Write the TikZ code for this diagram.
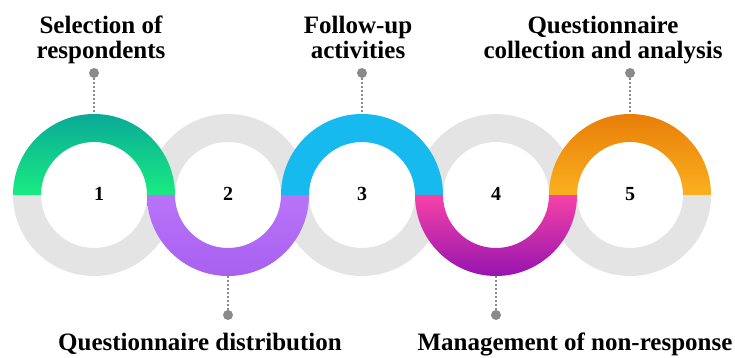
\documentclass[tikz,border=0pt]{standalone}
\usepackage{fontspec}
\setmainfont{Liberation Serif}
\definecolor{ringgray}{RGB}{228,228,228}
\definecolor{pingray}{RGB}{138,138,138}
\definecolor{tealtop}{RGB}{10,170,150}
\definecolor{greenbot}{RGB}{25,235,130}
\definecolor{violettop}{RGB}{184,116,248}
\definecolor{violetbot}{RGB}{168,96,240}
\definecolor{cyanring}{RGB}{22,186,238}
\definecolor{pinktop}{RGB}{246,66,166}
\definecolor{plumbot}{RGB}{150,20,176}
\definecolor{orangetop}{RGB}{232,126,8}
\definecolor{orangebot}{RGB}{251,176,32}
\begin{document}
\begin{tikzpicture}[x=1pt,y=1pt,
  lbl/.style={font=\fontsize{25}{25}\selectfont\bfseries, align=center, inner sep=0pt, anchor=base},
  num/.style={font=\fontsize{20}{20}\selectfont\bfseries, inner sep=0pt},
  pin/.style={circle, fill=pingray, inner sep=0pt, minimum size=10pt},
  lead/.style={pingray, line width=2pt, dash pattern=on 2pt off 2pt}]
\useasboundingbox (0,0) rectangle (735,358);

% grey halves of the five rings
\foreach \cx/\s in {94/-1,228/1,362/-1,496/1,630/-1}{
  \fill[ringgray] (\cx+81,163) arc[start angle=0,end angle=\s*180,radius=81]
    -- ++(28,0) arc[start angle=\s*180,end angle=0,radius=53] -- cycle;
}

% coloured halves
\shade[top color=tealtop,bottom color=greenbot]
  (94+81,163) arc[start angle=0,end angle=180,radius=81]
  -- ++(28,0) arc[start angle=180,end angle=0,radius=53] -- cycle;
\shade[top color=violettop,bottom color=violetbot]
  (228+81,163) arc[start angle=0,end angle=-180,radius=81]
  -- ++(28,0) arc[start angle=-180,end angle=0,radius=53] -- cycle;
\fill[cyanring]
  (362+81,163) arc[start angle=0,end angle=180,radius=81]
  -- ++(28,0) arc[start angle=180,end angle=0,radius=53] -- cycle;
\shade[top color=pinktop,bottom color=plumbot]
  (496+81,163) arc[start angle=0,end angle=-180,radius=81]
  -- ++(28,0) arc[start angle=-180,end angle=0,radius=53] -- cycle;
\shade[top color=orangetop,bottom color=orangebot]
  (630+81,163) arc[start angle=0,end angle=180,radius=81]
  -- ++(28,0) arc[start angle=180,end angle=0,radius=53] -- cycle;

% step numbers
\node[num] (n1) at (99,164) {1};
\node[num] (n2) at (228,164) {2};
\node[num] (n3) at (362,164) {3};
\node[num] (n4) at (496,164) {4};
\node[num] (n5) at (630,164) {5};

% ring edges where the leaders end
\coordinate (e1) at (94,244);
\coordinate (e2) at (228,82);
\coordinate (e3) at (362,244);
\coordinate (e4) at (496,82);
\coordinate (e5) at (630,244);

% pins
\node[pin] (p1) at (94,285) {};
\node[pin] (p2) at (228,43) {};
\node[pin] (p3) at (362,285) {};
\node[pin] (p4) at (496,43) {};
\node[pin] (p5) at (630,285) {};

\foreach \i in {1,...,5}{\draw[lead] (p\i) -- (e\i);}

% labels (base anchor sits on the last line)
\node[lbl] (l1) at (101,299) {Selection of\\respondents};
\node[lbl] (l3) at (358,299) {Follow-up\\activities};
\node[lbl] (l5) at (603,299) {Questionnaire\\collection and analysis};
\node[lbl] (l2) at (200,7) {Questionnaire distribution};
\node[lbl] (l4) at (575,7) {Management of non-response};
\end{tikzpicture}
\end{document}
